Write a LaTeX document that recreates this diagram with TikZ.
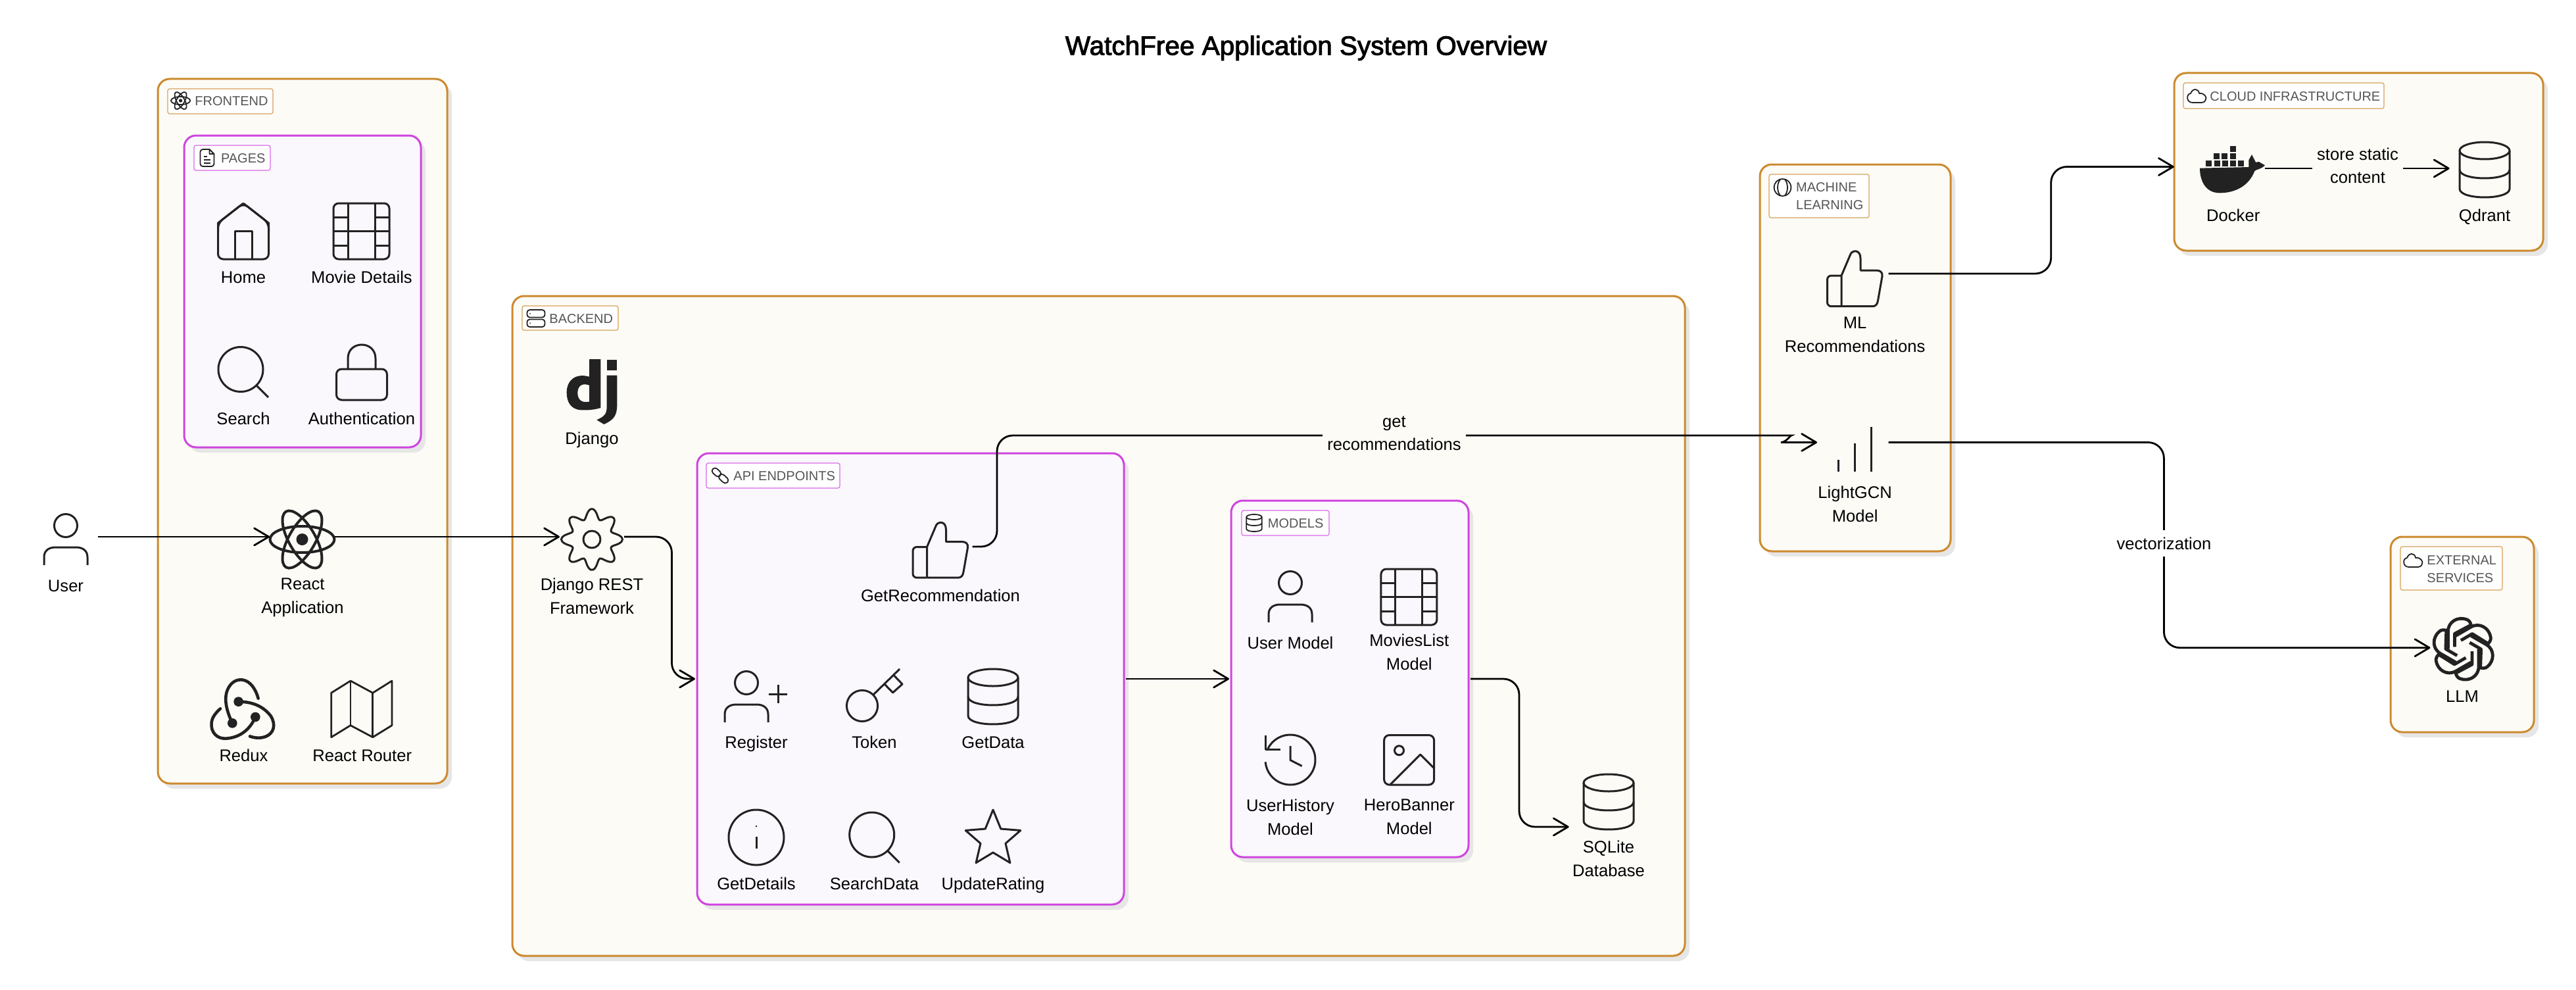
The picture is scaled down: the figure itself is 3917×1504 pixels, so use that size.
\documentclass[tikz,border=0pt]{standalone}
\usepackage{fontspec}
\setmainfont{Liberation Sans}
\newfontfamily\titlefont[FakeBold=2.5]{Liberation Sans}
\usetikzlibrary{arrows.meta}
\definecolor{panelorange}{HTML}{CC8A2E}
\definecolor{panelmagenta}{HTML}{CF45DE}
\definecolor{creamfill}{HTML}{FCFBF6}
\definecolor{lilacfill}{HTML}{FAF7FD}
\definecolor{shadowgray}{HTML}{E6E6E6}
\definecolor{iconink}{HTML}{222222}
\definecolor{chipink}{HTML}{555555}
\tikzset{
  x=0.5pt,y=-0.5pt,
  panelbase/.style={rectangle,rounded corners=9pt,line width=1.5pt,inner sep=0pt,outer sep=1.5pt,
    preaction={fill=shadowgray,transform canvas={shift={(3.5pt,-4pt)}}}},
  orangepanel/.style={panelbase,draw=panelorange,fill=creamfill},
  magentapanel/.style={panelbase,draw=panelmagenta,fill=lilacfill},
  chipbase/.style={rectangle,rounded corners=1.5pt,line width=0.6pt,inner sep=0pt,fill=white},
  orangechip/.style={chipbase,draw=panelorange!80},
  magentachip/.style={chipbase,draw=panelmagenta!80},
  chiptext/.style={anchor=north west,inner sep=0pt,yshift=5.85pt,align=left,text=chipink,
    font=\fontsize{10}{13.5}\selectfont,execute at begin node=\strut},
  chiptwo/.style={chiptext,yshift=-1.9pt},
  lbl/.style={anchor=north,inner sep=0pt,yshift=7.8pt,align=center,text=black,
    font=\fontsize{12.8}{17.8}\selectfont,execute at begin node=\strut},
  lbltwo/.style={lbl,yshift=-2.25pt},
  edgelbl/.style={rectangle,inner sep=0pt,align=center,text=black,font=\fontsize{12.8}{17.3}\selectfont},
  portbox/.style={rectangle,inner sep=0pt,outer sep=0pt,minimum height=1pt},
  conn/.style={draw=black,line width=1.4pt,rounded corners=12pt,-{Straight Barb[length=11pt,width=13pt,round]}},
  ico/.style={color=iconink,line width=1.5pt,line join=round},
  mini/.style={color=iconink,line width=0.9pt,line join=round},
  home/.pic={
    \draw[rounded corners=4pt] (0,-42.5) -- (-38.5,-12.5) -- (-38.5,42.5) -- (38.5,42.5) -- (38.5,-12.5) -- cycle;
    \draw (-13,42.5) -- (-13,0.2) -- (13,0.2) -- (13,42.5);
    \draw[fill=none] (0,-42.5) -- (-38.5,-12.5) -- (-38.5,0);
    \draw (0,-42.5) -- (38.5,-12.5) -- (38.5,0);
  },
  film/.pic={
    \draw[rounded corners=4pt] (-42.5,-42.5) rectangle (42.5,42.5);
    \draw (-20.5,-42.5) -- (-20.5,42.5) (20.5,-42.5) -- (20.5,42.5) (-42.5,0) -- (42.5,0);
    \draw (-42.5,-21.5) -- (-20.5,-21.5) (20.5,-21.5) -- (42.5,-21.5) (-42.5,21.5) -- (-20.5,21.5) (20.5,21.5) -- (42.5,21.5);
  },
  magnify/.pic={
    \draw (-4,-4.5) circle[radius=34];
    \draw (20,20) -- (38,38);
  },
  padlock/.pic={
    \draw[rounded corners=4pt] (-38.5,-5) rectangle (38.5,42);
    \draw (-21,-5) -- (-21,-21) .. controls (-21,-49) and (21,-49) .. (21,-21) -- (21,-5);
  },
  person/.pic={
    \draw (0,-30) circle[radius=17.5];
    \draw (-33,30) -- (-33,18) .. controls (-33,8) and (-26,3) .. (-15,3) -- (15,3) .. controls (26,3) and (33,8) .. (33,18) -- (33,30);
  },
  atom/.pic={
    \foreach \a in {0,60,120} {\draw[rotate=\a] (0,0) ellipse[x radius=49,y radius=20];}
    \fill (0,0) circle[radius=9];
  },
  gear/.pic={
    \draw plot[smooth cycle,domain=0:356,samples=90] ({(39+7.5*cos(8*\x))*cos(\x)},{(39+7.5*cos(8*\x))*sin(\x)});
    \draw (0,0) circle[radius=13];
  },
  cylinder/.pic={
    \draw (0,-29) ellipse[x radius=38,y radius=13];
    \draw (-38,-29) -- (-38,29) .. controls (-38,46.3) and (38,46.3) .. (38,29) -- (38,-29);
    \draw (-38,0) .. controls (-38,17.3) and (38,17.3) .. (38,0);
  },
  thumbup/.pic={
    \draw[rounded corners=3pt] (-20,-4) -- (-41.5,-4) -- (-41.5,42.7) -- (-20,42.7);
    \draw (-20,42.7) -- (-20,-4) -- (-6,-37) .. controls (-3,-43) and (9,-44) .. (9,-30) -- (9,-12) -- (33,-12) .. controls (39,-12) and (43,-9) .. (42,-3) -- (35.5,34) .. controls (34.5,40) and (32,42.7) .. (27,42.7) -- (-20,42.7);
  },
  servers/.pic={
    \draw[rounded corners=2pt] (-13.5,-13) rectangle (13.5,-1.5);
    \draw[rounded corners=2pt] (-13.5,1.5) rectangle (13.5,13);
    \fill (-9,-7.25) circle[radius=1] (-9,7.25) circle[radius=1];
  },
  docpage/.pic={
    \draw[rounded corners=2pt] (3.5,-13) -- (-10.5,-13) -- (-10.5,13) -- (10.5,13) -- (10.5,-6);
    \draw (3.5,-13) -- (10.5,-6) -- (3.5,-6) -- cycle;
    \draw (-5,-2) -- (0,-2) (-5,3) -- (5,3) (-5,8) -- (5,8);
  },
  chainlink/.pic={
    \draw[rotate=-42,rounded corners=2.2pt] (-15,-4.5) rectangle (0,4.5);
    \draw[rotate=-42,rounded corners=2.2pt] (-1,-4.5) rectangle (15,4.5);
  },
  brainglyph/.pic={
    \draw (0,0) ellipse[x radius=13,y radius=13];
    \draw (-3,-13) .. controls (-9,-6) and (-9,6) .. (-3,13);
    \draw (3,-13) .. controls (9,-6) and (9,6) .. (3,13);
  },
  cloudglyph/.pic={
    \draw (-6,10) .. controls (-16,10) and (-16,-3) .. (-9,-4) .. controls (-6,-12) and (3,-12) .. (4,-4) .. controls (12,-5) and (16,2) .. (14,5) .. controls (13,9) and (10,10) .. (8,10) -- cycle;
  },
}
\newcommand\panelat[6]{\node[#1,minimum width={(#5-#3)*0.5pt},minimum height={(#6-#4)*0.5pt}] (#2) at ({(#3+#5)/2},{(#4+#6)/2}) {};}
\newcommand\chipat[6]{\node[#1,minimum width={(#5-#3)*0.5pt},minimum height={(#6-#4)*0.5pt}] (#2) at ({(#3+#5)/2},{(#4+#6)/2}) {};}
\newcommand\portat[4]{\node[portbox,minimum width={(#3-#2)*0.5pt}] (#1) at ({(#2+#3)/2},#4) {};}
\begin{document}
\begin{tikzpicture}
\useasboundingbox (0,0) rectangle (3917,1504);
\fill[white] (0,0) rectangle (3917,1504);

% title
\node[inner sep=0pt,text=black] (title) at (1986,73) {\titlefont\fontsize{20.25}{24}\selectfont WatchFree Application System Overview};

% panels
\panelat{orangepanel}{frontend}{240}{120}{680}{1191}
\panelat{magentapanel}{pages}{280}{206}{640}{680}
\panelat{orangepanel}{backend}{779}{450}{2562}{1453}
\panelat{magentapanel}{api}{1060}{689}{1709}{1375}
\panelat{magentapanel}{models}{1872}{761}{2233}{1303}
\panelat{orangepanel}{mlpanel}{2676}{250}{2966}{838}
\panelat{orangepanel}{cloud}{3306}{111}{3867}{381}
\panelat{orangepanel}{external}{3635}{816}{3853}{1113}

% chips
\chipat{orangechip}{frontendchip}{255}{135}{415}{173}
\pic[mini,scale=.3] at (274.6,153) {atom};
\node[chiptext] (frontendtxt) at (296,153) {FRONTEND};
\chipat{magentachip}{pageschip}{295}{221}{411}{259}
\pic[mini] at (315,240) {docpage};
\node[chiptext] (pagestxt) at (335.6,240) {PAGES};
\chipat{orangechip}{backendchip}{794}{465}{940}{502}
\pic[mini] at (815,484) {servers};
\node[chiptext] (backendtxt) at (835,484) {BACKEND};
\chipat{magentachip}{apichip}{1074}{704}{1277}{742}
\pic[mini] at (1095,723) {chainlink};
\node[chiptext] (apitxt) at (1115,723) {API ENDPOINTS};
\chipat{magentachip}{modelschip}{1888}{776}{2021}{814}
\pic[mini,scale=.31] at (1907,795) {cylinder};
\node[chiptext] (modelstxt) at (1927.5,795) {MODELS};
\chipat{orangechip}{mlchip}{2690}{265}{2842}{331}
\pic[mini] at (2710.5,285) {brainglyph};
\node[chiptwo] (mltxt) at (2730.7,285) {MACHINE\\LEARNING};
\chipat{orangechip}{cloudchip}{3320}{126}{3625}{165}
\pic[mini] at (3340,146) {cloudglyph};
\node[chiptext] (cloudtxt) at (3360,146) {CLOUD INFRASTRUCTURE};
\chipat{orangechip}{externalchip}{3650}{831}{3805}{897}
\pic[mini] at (3669,852) {cloudglyph};
\node[chiptwo] (externaltxt) at (3690,852) {EXTERNAL\\SERVICES};

% icons, frontend
\pic[ico] at (370,351.5) {home};
\node[lbl] (homel) at (370,421) {Home};
\pic[ico] at (549.5,351.5) {film};
\node[lbl] (moviel) at (550,421) {Movie Details};
\pic[ico] at (370,566) {magnify};
\node[lbl] (searchl) at (370,635.5) {Search};
\pic[ico] at (550,566) {padlock};
\node[lbl] (authl) at (550,635.5) {Authentication};
\pic[ico] at (100,829) {person};
\node[lbl] (userl) at (100,890) {User};
\pic[ico,line width=2pt] at (459.5,820) {atom};
\node[lbltwo] (reactl) at (460,890) {React\\Application};
% redux
\begin{scope}[shift={(300,1020)},scale=1/3,color=iconink,line width=2.3pt,line cap=round]
  \draw (160,238) .. controls (130,175) and (115,110) .. (150,65) .. controls (180,25) and (250,25) .. (278,125);
  \draw (188,140) .. controls (250,140) and (300,160) .. (335,205) .. controls (360,245) and (350,285) .. (310,300) .. controls (290,307) and (265,307) .. (240,298);
  \draw (265,210) .. controls (240,270) and (190,305) .. (130,308) .. controls (90,310) and (60,280) .. (65,235) .. controls (68,210) and (85,190) .. (105,172);
  \fill (160,238) circle[radius=22] (188,140) circle[radius=22] (265,210) circle[radius=22];
\end{scope}
\node[lbl] (reduxl) at (370.5,1147.7) {Redux};
% map
\begin{scope}[color=iconink,line width=1.4pt,line join=round]
  \draw (503.7,1053.3) -- (533,1035) -- (566.8,1053.3) -- (596,1035) -- (596,1102.7) -- (566.8,1120.7) -- (533,1102.7) -- (503.7,1120.7) -- cycle;
  \draw (533,1035) -- (533,1102.7) (566.8,1053.3) -- (566.8,1120.7);
\end{scope}
\node[lbl] (routerl) at (550.7,1147.7) {React Router};

% django
\begin{scope}[shift={(850,540)},scale=1/3]
  \fill[iconink,even odd rule] (138,18) -- (190,18) -- (190,240) .. controls (165,248) and (130,252) .. (100,250) .. controls (55,247) and (35,215) .. (35,170) .. controls (35,115) and (75,80) .. (138,98) -- cycle
    (138,137) .. controls (105,125) and (85,140) .. (85,172) .. controls (85,205) and (105,218) .. (138,212) -- cycle;
  \fill[iconink] (218,20) rectangle (265,70);
  \fill[iconink] (218,92) -- (265,92) -- (265,225) .. controls (265,275) and (250,295) .. (205,315) -- (172,295) .. controls (205,280) and (218,270) .. (218,235) -- cycle;
\end{scope}
\node[lbl] (djangol) at (900,666) {Django};
\pic[ico] at (900,820) {gear};
\node[lbltwo] (gearl) at (900,890) {Django REST\\Framework};

% endpoints
\pic[ico] at (1429.5,835.5) {thumbup};
\node[lbl] (recl) at (1430,905) {GetRecommendation};
\pic[ico] at (1135,1068) {person};
\draw[ico] (1183,1041) -- (1183,1069) (1169,1055) -- (1197,1055);
\node[lbl] (registerl) at (1150,1128) {Register};
\begin{scope}[ico]
  \draw (1311,1073) circle[radius=23.6];
  \draw (1327.7,1056.3) -- (1368,1017);
  \draw (1345,1040) -- (1357.6,1053) -- (1372,1040) -- (1359.5,1027);
\end{scope}
\node[lbl] (tokenl) at (1329.5,1128) {Token};
\pic[ico] at (1510,1059) {cylinder};
\node[lbl] (getdatal) at (1510,1128) {GetData};
\begin{scope}[ico]
  \draw (1150,1273) circle[radius=42];
  \draw (1150,1272) -- (1150,1290);
  \fill (1150,1256) circle[radius=1.3];
\end{scope}
\node[lbl] (detailsl) at (1150,1342.5) {GetDetails};
\pic[ico] at (1329.7,1273.5) {magnify};
\node[lbl] (searchdatal) at (1329.5,1342.5) {SearchData};
\draw[ico] (1510,1231) -- (1521.8,1260) -- (1551.8,1262.4) -- (1529,1282.2) -- (1535.9,1311.6) -- (1510,1296) -- (1484.1,1311.6) -- (1491,1282.2) -- (1468.2,1262.4) -- (1498.2,1260) -- cycle;
\node[lbl] (ratingl) at (1510,1342.5) {UpdateRating};

% models
\pic[ico] at (1962,916) {person};
\node[lbl] (usermodell) at (1962,976.7) {User Model};
\pic[ico] at (2142.4,907.5) {film};
\node[lbltwo] (moviesl) at (2142.8,974.7) {MoviesList\\Model};
\begin{scope}[ico]
  \draw plot[smooth,domain=155:-175,samples=40] ({1962+38*cos(\x)},{1155-38*sin(\x)});
  \draw (1924,1117.5) -- (1924,1139) -- (1947,1139);
  \draw (1962,1134) -- (1962,1155.5) -- (1979.6,1164.5);
\end{scope}
\node[lbltwo] (historyl) at (1962,1225.7) {UserHistory\\Model};
\begin{scope}[ico]
  \draw[rounded corners=4pt] (2104.6,1117.5) rectangle (2180.6,1193);
  \draw (2127.5,1140.8) circle[radius=7];
  \draw (2113.8,1193) -- (2159.7,1147) -- (2180.6,1167.8);
\end{scope}
\node[lbltwo] (bannerl) at (2142.8,1225.7) {HeroBanner\\Model};
\pic[ico] at (2446,1219) {cylinder};
\node[lbltwo] (sqlitel) at (2446,1289) {SQLite\\Database};

% machine learning
\pic[ico] at (2820,423) {thumbup};
\node[lbltwo] (mlrecl) at (2820.6,492.5) {ML\\Recommendations};
\draw[ico] (2795.5,699) -- (2795.5,717) (2820.6,673.5) -- (2820.6,717) (2845.7,648.5) -- (2845.7,717);
\node[lbltwo] (gcnl) at (2820.6,750) {LightGCN\\Model};

% docker
\begin{scope}[shift={(3320,210)},scale=1/3]
  \fill[iconink] (75,137) -- (298,132) -- (298,100) -- (312,75) -- (330,110) -- (345,108) -- (372,124) .. controls (350,145) and (335,140) .. (325,150) .. controls (300,215) and (240,250) .. (165,250) .. controls (105,250) and (75,200) .. (75,137) -- cycle;
  \foreach \p in {103,140,177,213,250} {\fill[iconink] (\p,103) rectangle +(27,27);}
  \foreach \p in {138,175,212} {\fill[iconink] (\p,70) rectangle +(27,27);}
  \fill[iconink] (212,37) rectangle +(27,27);
\end{scope}
\node[lbl] (dockerl) at (3395.7,326.5) {Docker};
\pic[ico] at (3778,258) {cylinder};
\node[lbl] (qdrantl) at (3778,326.5) {Qdrant};

% llm
\begin{scope}[shift={(3745.7,986.7)},scale=1/3,color=iconink,line width=2.4pt,line join=round]
  \foreach \a in {0,60,120,180,240,300} {
    \draw[rotate=\a] (-70,0) -- (-70,-80) .. controls (-70,-125) and (-25,-150) .. (15,-135) .. controls (25,-132) and (32,-122) .. (35,-110) -- (-40,-70) -- (-40,-10);
  }
\end{scope}
\node[lbl] (llml) at (3744,1058) {LLM};

% connector ends
\portat{userp}{70}{148.7}{816}
\portat{reactp}{410}{508.6}{816}
\portat{gearp}{851}{949}{816}
\portat{recp}{1388}{1478.7}{831}
\portat{sqlitep}{2385.7}{2484}{1257}
\portat{gcnp}{2763}{2871.6}{672.5}
\portat{mlp}{2778}{2871.6}{416}
\portat{dockerp}{3345}{3444}{256}
\portat{qdrantp}{3724.6}{3816}{256}
\portat{llmp}{3695.4}{3792}{984.7}
\coordinate (cloudin) at (3305.8,253.5);

% connectors
\draw[conn] (userp.east) -- (reactp.west);
\draw[conn] (reactp.east) -- (gearp.west);
\draw[conn] (gearp.east) -- (1021.5,816) -- (1021.5,1032) -- (api.west);
\draw[conn] (api.east) -- (models.west);
\draw[conn] (models.east) -- (2310,1032) -- (2310,1257) -- (sqlitep.west);
\draw[conn] (recp.east) -- (1516,831) -- (1516,662) -- (2700,662) .. controls (2722,662) and (2716,672.5) .. (2732,672.5) -- (gcnp.west);
\draw[conn] (mlp.east) -- (3118.7,416) -- (3118.7,253.5) -- (cloudin);
\draw[conn] (gcnp.east) -- (3290.4,672.5) -- (3290.4,984.7) -- (llmp.west);
\draw[conn] (dockerp.east) -- (qdrantp.west);

% connector labels
\node[edgelbl,fill=creamfill,minimum width=109pt,minimum height=40pt] (getrecl) at (2120,659) {get\\recommendations};
\node[edgelbl,fill=white,minimum height=20pt,minimum width=72pt] (vectl) at (3290.4,826) {vectorization};
\node[edgelbl,fill=creamfill,minimum width=69pt] (storel) at (3585,252) {store static\\content};
\end{tikzpicture}
\end{document}
